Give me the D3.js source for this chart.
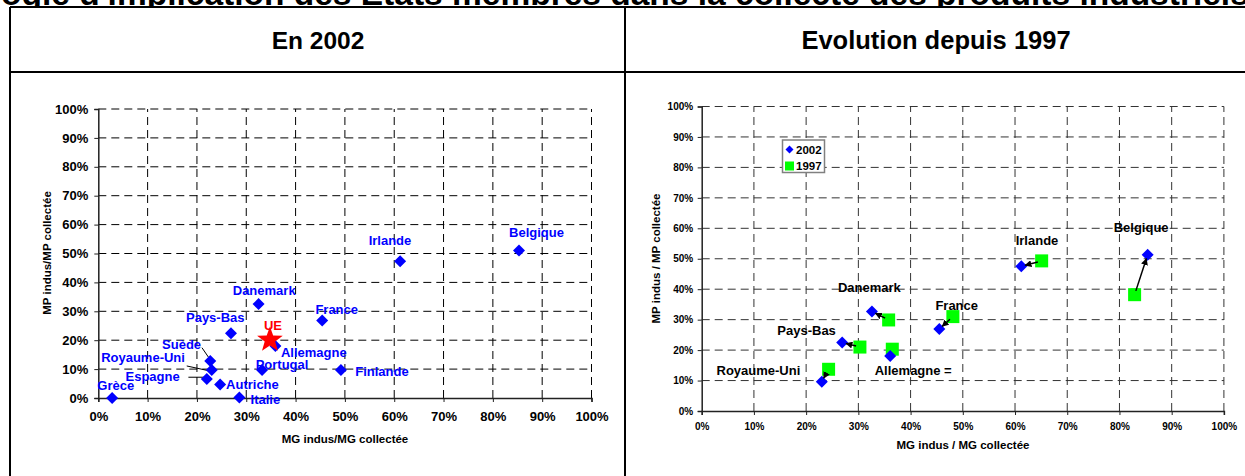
<!DOCTYPE html>
<html><head><meta charset="utf-8">
<script src="https://cdn.jsdelivr.net/npm/d3@7"></script>
<style>
body{margin:0;background:#fff;}
svg{display:block;font-family:"Liberation Sans",Arial,sans-serif;font-weight:bold;}
</style></head>
<body><svg id="c" width="1245" height="476"></svg>
<script>
// ---------- DATA ----------
const pageTitle = "Typologie d'implication des Etats membres dans la collecte des produits industriels";
const panelTitles = ["En 2002", "Evolution depuis 1997"];
const tickValues = [0, 10, 20, 30, 40, 50, 60, 70, 80, 90, 100];
const tickLabels = ["0%","10%","20%","30%","40%","50%","60%","70%","80%","90%","100%"];

// Left panel: 2002 position of each member state (x = MG indus/MG collectée, y = MP indus/MP collectée, %)
const countries2002 = ["Grèce","Espagne","Royaume-Uni","Suède","Autriche","Italie","Pays-Bas","Danemark","Portugal","Allemagne","France","Finlande","Irlande","Belgique"];
const mg2002All = [2.8, 22.0, 23.0, 22.7, 24.7, 28.6, 26.9, 32.5, 33.2, 35.9, 45.4, 49.2, 61.2, 85.3];
const mp2002All = [0.0, 6.6, 9.7, 12.8, 4.7, 0.2, 22.4, 32.5, 9.7, 18.0, 26.8, 9.7, 47.3, 51.0];
const ueLabel = "UE";
const ueMG = 34.8;
const ueMP = 20.1;

// Right panel: evolution 1997 -> 2002
const evoCountries = ["Royaume-Uni","Pays-Bas","Danemark","Allemagne","France","Irlande","Belgique"];
const evoLabels = ["Royaume-Uni","Pays-Bas","Danemark","Allemagne =","France","Irlande","Belgique"];
const mg2002 = [23.0, 26.9, 32.6, 36.1, 45.5, 61.2, 85.4];
const mp2002 = [9.6, 22.5, 32.7, 18.1, 26.9, 47.5, 51.3];
const mg1997 = [24.3, 30.3, 35.8, 36.5, 48.1, 65.1, 82.9];
const mp1997 = [13.7, 21.0, 29.9, 20.3, 31.0, 49.3, 38.2];
const hasArrow = [true, true, true, false, true, true, true];
const seriesNames = ["2002", "1997"];

const xTitleLeft = "MG indus/MG collectée";
const yTitleLeft = "MP indus/MP collectée";
const xTitleRight = "MG indus / MG collectée";
const yTitleRight = "MP indus / MP collectée";

// ---------- LAYOUT ----------
const BLUE = "#0000ff", GREEN = "#00ff00", RED = "#ff0000";
const svg = d3.select("#c");

// label offsets (text centre relative to point, px)
const leftLabelPos = {
  "Grèce":[3.7,-13], "Espagne":[-54.2,-3], "Royaume-Uni":[-68.7,-12.3], "Suède":[-28.7,-17],
  "Autriche":[32.3,0], "Italie":[26,1.7], "Pays-Bas":[-15.7,-15.6], "Danemark":[5.6,-14],
  "Portugal":[20,-5.7], "Allemagne":[38.4,6.7], "France":[14.5,-11.4], "Finlande":[41,1.7],
  "Irlande":[-10.2,-20.6], "Belgique":[17.5,-18]
};
const leftLeaders = {
  "Suède":[[-8.3,-13.3],[-1.7,-3.7]],
  "Royaume-Uni":[[-25,-4],[-3.4,0.7]],
  "Espagne":[[-18.4,-1.7],[-1.7,-1.7]]
};
const rightLabelPos = {
  "Royaume-Uni":[-63.4,-11.7], "Pays-Bas":[-35.6,-12], "Danemark":[-2.5,-24.4],
  "Allemagne":[23,14.5], "France":[17.4,-23.6], "Irlande":[15.7,-26], "Belgique":[-6.5,-27.7]
};

// ---------- FRAME ----------
const frame = svg.append("g");
// page title (cut off at the top of the picture)
const tt = frame.append("text").attr("x", 0).attr("y", 5).attr("font-size", 33.5).attr("fill","#000");
tt.append("tspan").attr("class","pre").text(pageTitle.slice(0,5));
tt.append("tspan").text(pageTitle.slice(5));
const preW = tt.select(".pre").node().getComputedTextLength();
tt.attr("x", -preW + 1);
frame.append("rect").attr("x",0).attr("y",7).attr("width",1245).attr("height",469).attr("fill","#fff");
const lineAttrs = s => s.attr("stroke","#000").attr("stroke-width",2);
frame.append("line").attr("x1",10).attr("x2",1245).attr("y1",7).attr("y2",7).call(lineAttrs);
frame.append("line").attr("x1",10).attr("x2",10).attr("y1",7).attr("y2",476).call(lineAttrs);
frame.append("line").attr("x1",625).attr("x2",625).attr("y1",7).attr("y2",476).call(lineAttrs);
frame.append("line").attr("x1",10).attr("x2",1245).attr("y1",72).attr("y2",72).call(lineAttrs);
frame.append("text").attr("x",318).attr("y",49).attr("text-anchor","middle").attr("font-size",24.5).text(panelTitles[0]);
frame.append("text").attr("x",936).attr("y",49).attr("text-anchor","middle").attr("font-size",25.5).text(panelTitles[1]);

// ---------- PANEL HELPER ----------
function panel(cfg){
  const g = svg.append("g");
  const x = d3.scaleLinear().domain([0,100]).range([cfg.x0, cfg.x1]);
  const y = d3.scaleLinear().domain([0,100]).range([cfg.y0, cfg.y1]);
  // grid
  g.append("g").selectAll("line.h").data(tickValues.filter(v=>v>0)).join("line")
    .attr("x1", x(0)).attr("x2", x(100)).attr("y1", d=>y(d)).attr("y2", d=>y(d))
    .attr("stroke", cfg.gridColor).attr("stroke-width",1).attr("stroke-dasharray", cfg.dash);
  g.append("g").selectAll("line.v").data(tickValues.filter(v=>v>0)).join("line")
    .attr("x1", d=>x(d)).attr("x2", d=>x(d)).attr("y1", y(0)).attr("y2", y(100))
    .attr("stroke", cfg.gridColor).attr("stroke-width",1).attr("stroke-dasharray", cfg.dash);
  // axes
  const xa = g.append("g").attr("transform",`translate(0,${y(0)})`)
    .call(d3.axisBottom(x).tickValues(tickValues).tickFormat((d,i)=>tickLabels[i]).tickSize(4).tickPadding(cfg.xPad));
  const ya = g.append("g").attr("transform",`translate(${x(0)},0)`)
    .call(d3.axisLeft(y).tickValues(tickValues).tickFormat((d,i)=>tickLabels[i]).tickSize(4).tickPadding(cfg.yPad));
  [xa, ya].forEach(a=>{
    a.select(".domain").attr("stroke","#222").attr("stroke-width",1.5);
    a.selectAll(".tick line").attr("stroke","#222");
    a.selectAll("text").attr("font-family",'"Liberation Sans",Arial,sans-serif').attr("font-weight","bold")
      .attr("font-size", cfg.tickFont).attr("fill","#000");
  });
  g.append("text").attr("x", cfg.xtX).attr("y", cfg.xtY).attr("text-anchor","middle")
    .attr("font-size", 11.5).text(cfg.xTitle);
  g.append("text").attr("transform",`translate(${cfg.ytX},${cfg.ytY}) rotate(-90)`).attr("text-anchor","middle")
    .attr("font-size", 11.5).text(cfg.yTitle);
  return {g, x, y};
}
const diamond = r => `M0,${-r}L${r},0L0,${r}L${-r},0Z`;
function starPath(R, r){
  const pts = [];
  for(let i=0;i<10;i++){
    const a = -Math.PI/2 + i*Math.PI/5;
    const rr = i%2===0 ? R : r;
    pts.push([rr*Math.cos(a), rr*Math.sin(a)]);
  }
  return "M" + pts.map(p=>p.join(",")).join("L") + "Z";
}

// ---------- LEFT PANEL ----------
const L = panel({x0:98.3, x1:591.5, y0:398, y1:109, gridColor:"#000", dash:"8,5",
  tickFont:13, xPad:10, yPad:6, xTitle:xTitleLeft, yTitle:yTitleLeft,
  xtX:345, xtY:443, ytX:51, ytY:253});
const leftData = countries2002.map((c,i)=>({c, mg:mg2002All[i], mp:mp2002All[i]}));
// leaders
leftData.filter(d=>leftLeaders[d.c]).forEach(d=>{
  const px = L.x(d.mg), py = L.y(d.mp), ld = leftLeaders[d.c];
  L.g.append("line").attr("x1",px+ld[0][0]).attr("y1",py+ld[0][1]).attr("x2",px+ld[1][0]).attr("y2",py+ld[1][1])
    .attr("stroke","#000").attr("stroke-width",1);
});
L.g.append("g").selectAll("path").data(leftData).join("path")
  .attr("d", diamond(6)).attr("fill", BLUE)
  .attr("transform", d=>`translate(${L.x(d.mg)},${L.y(d.mp)})`);
L.g.append("g").selectAll("text").data(leftData).join("text")
  .attr("x", d=>L.x(d.mg)+leftLabelPos[d.c][0])
  .attr("y", d=>L.y(d.mp)+leftLabelPos[d.c][1]+4.7)
  .attr("text-anchor","middle").attr("font-size",13).attr("fill",BLUE).text(d=>d.c);
L.g.append("path").attr("d", starPath(13.5, 5.5)).attr("fill", RED)
  .attr("transform", `translate(${L.x(ueMG)},${L.y(ueMP)})`);
L.g.append("text").attr("x", L.x(ueMG)+3).attr("y", L.y(ueMP)-15+4.7).attr("text-anchor","middle")
  .attr("font-size",13).attr("fill",RED).text(ueLabel);

// ---------- RIGHT PANEL ----------
const R = panel({x0:701.7, x1:1223.9, y0:411, y1:106.5, gridColor:"#333", dash:"8,5",
  tickFont:10, xPad:8, yPad:4.5, xTitle:xTitleRight, yTitle:yTitleRight,
  xtX:963, xtY:449, ytX:660, ytY:258.5});
const evo = evoCountries.map((c,i)=>({c, label:evoLabels[i], x2:mg2002[i], y2:mp2002[i], x1:mg1997[i], y1:mp1997[i], arrow:hasArrow[i]}));
R.g.append("g").selectAll("rect").data(evo).join("rect")
  .attr("x", d=>R.x(d.x1)-6.5).attr("y", d=>R.y(d.y1)-6.5).attr("width",13).attr("height",13).attr("fill",GREEN);
R.g.append("g").selectAll("path").data(evo).join("path")
  .attr("d", diamond(6)).attr("fill", BLUE)
  .attr("transform", d=>`translate(${R.x(d.x2)},${R.y(d.y2)})`);
// arrows
const defs = svg.append("defs");
defs.append("marker").attr("id","ah").attr("viewBox","0 0 10 10").attr("refX",9).attr("refY",5)
  .attr("markerWidth",7).attr("markerHeight",7).attr("markerUnits","userSpaceOnUse").attr("orient","auto")
  .append("path").attr("d","M0,0L10,5L0,10Z").attr("fill","#000");
evo.filter(d=>d.arrow).forEach(d=>{
  const sx = R.x(d.x1), sy = R.y(d.y1), ex = R.x(d.x2), ey = R.y(d.y2);
  const len = Math.hypot(ex-sx, ey-sy), ux = (ex-sx)/len, uy = (ey-sy)/len;
  R.g.append("line").attr("x1", sx+ux*4).attr("y1", sy+uy*4).attr("x2", ex-ux*4).attr("y2", ey-uy*4)
    .attr("stroke","#000").attr("stroke-width",1.5).attr("marker-end","url(#ah)");
});
R.g.append("g").selectAll("text").data(evo).join("text")
  .attr("x", d=>R.x(d.x2)+rightLabelPos[d.c][0])
  .attr("y", d=>R.y(d.y2)+rightLabelPos[d.c][1]+4.7)
  .attr("text-anchor","middle").attr("font-size",13).attr("fill","#000").text(d=>d.label);
// legend
const lg = R.g.append("g");
lg.append("rect").attr("x",782.5).attr("y",140).attr("width",42).attr("height",32.5)
  .attr("fill","#fff").attr("stroke","#808080").attr("stroke-width",1.5);
lg.append("path").attr("d", diamond(4)).attr("fill",BLUE).attr("transform","translate(789.5,149.5)");
lg.append("rect").attr("x",785).attr("y",161.5).attr("width",9).attr("height",9).attr("fill",GREEN);
lg.append("text").attr("x",796).attr("y",153.5).attr("font-size",11.5).text(seriesNames[0]);
lg.append("text").attr("x",796).attr("y",170).attr("font-size",11.5).text(seriesNames[1]);
</script></body></html>
